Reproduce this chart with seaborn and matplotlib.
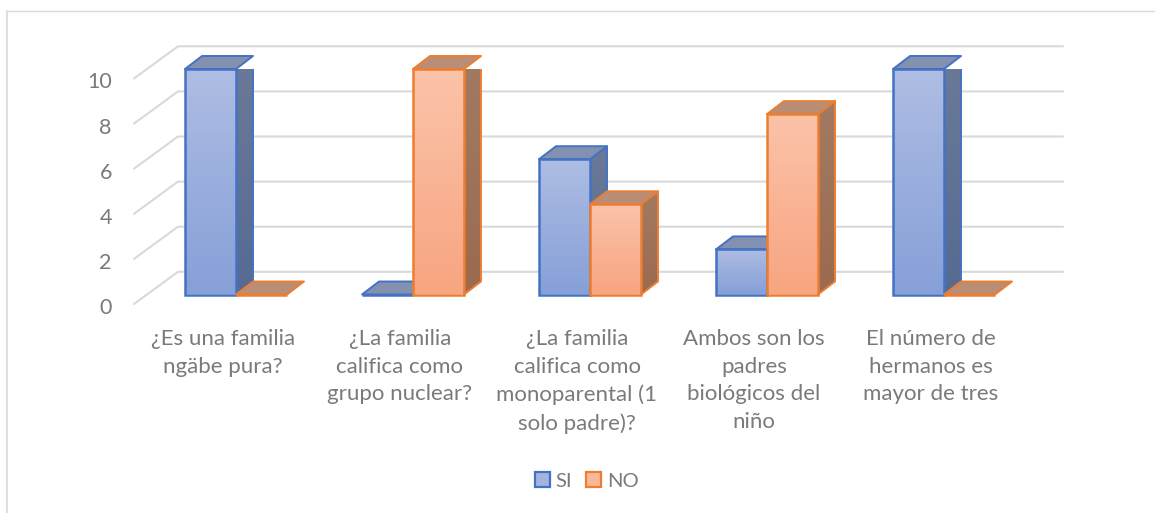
import numpy as np
import pandas as pd
import seaborn as sns
import matplotlib
matplotlib.use('Agg')
import matplotlib.pyplot as plt
from matplotlib.colors import LinearSegmentedColormap
from matplotlib.lines import Line2D
from matplotlib.patches import Patch, Polygon
from matplotlib.transforms import IdentityTransform, ScaledTranslation

# Data
categories = ['¿Es una familia\nngäbe pura?',
              '¿La familia\ncalifica como\ngrupo nuclear?',
              '¿La familia\ncalifica como\nmonoparental (1\nsolo padre)?',
              'Ambos son los\npadres\nbiológicos del\nniño',
              'El número de\nhermanos es\nmayor de tres']
si_values = [10, 0, 6, 2, 10]
no_values = [0, 10, 4, 8, 0]
y_ticks = [0, 2, 4, 6, 8, 10]

# Colours: edge, front top, front bottom, side top, side bottom, roof
blue = ['#4472C4', '#AEBDE3', '#86A0D8', '#6B7A97', '#566A93', '#8490B0']
orange = ['#ED7D31', '#FBC3A9', '#F8A581', '#A27B62', '#9C6A4F', '#B98D76']
text_color = '#7A7A7A'
grid_color = '#D9D9D9'

W, H = 1155, 513
depth_x, depth_y = 17, 13

sns.set_style('white')
plt.rcParams['font.family'] = ['Lato', 'DejaVu Sans']

df = pd.DataFrame({
    'pregunta': categories * 2,
    'valor': si_values + no_values,
    'respuesta': ['SI'] * len(categories) + ['NO'] * len(categories),
})

fig = plt.figure(figsize=(W / 100, H / 100), dpi=100)
ax = fig.add_axes([134 / W, 1 - 294.5 / H, (1063 - 134) / W, (294.5 - 69) / H])
ax.patch.set_alpha(0)

sns.barplot(data=df, x='pregunta', y='valor', hue='respuesta', hue_order=['SI', 'NO'],
            order=categories, width=0.576, gap=0, palette=[blue[0], orange[0]],
            legend=False, ax=ax)

ax.set_xlim(-102 / 177, 827 / 177)
ax.set_ylim(0, 10)
ax.set_autoscale_on(False)
ax.set_xlabel('')
ax.set_ylabel('')
sns.despine(ax=ax, left=True, bottom=True)


def gradient_fill(points, top, bottom, zorder):
    # fill a polygon given in pixels with a vertical gradient
    pts = np.array(points)
    poly = Polygon(pts, closed=True, transform=IdentityTransform(), facecolor='none', edgecolor='none')
    ax.add_patch(poly)
    cmap = LinearSegmentedColormap.from_list('g', [bottom, top])
    extent = (pts[:, 0].min(), pts[:, 0].max(), pts[:, 1].min(), pts[:, 1].max())
    im = ax.imshow(np.linspace(1, 0, 64).reshape(-1, 1), cmap=cmap, aspect='auto', extent=extent,
                   transform=IdentityTransform(), zorder=zorder, vmin=0, vmax=1)
    im.set_clip_path(poly)


# back wall grid lines and the slanted part at the left
for v in y_ticks:
    x0, y0 = ax.transData.transform((ax.get_xlim()[0], v))
    x1, y1 = ax.transData.transform((ax.get_xlim()[1], v))
    wall_y = y0 + 22.7
    ax.add_line(Line2D([x0, x0 + 44, x1], [y0 - 9.5, wall_y, wall_y], color=grid_color, lw=1.5,
                       transform=IdentityTransform(), zorder=1, clip_on=False))

# 3D look: every bar gets a front gradient, a side and a roof
z = 3
for container, colors in zip(ax.containers, [blue, orange]):
    for bar in container:
        (x0, y0), (x1, y1) = ax.transData.transform(bar.get_bbox().get_points())
        edge = colors[0]
        if y1 - y0 > 0.5:
            side = [(x1, y0), (x1 + depth_x, y0 + depth_y), (x1 + depth_x, y1 + depth_y), (x1, y1)]
            gradient_fill(side, colors[3], colors[4], z)
            ax.add_patch(Polygon(side, closed=True, transform=IdentityTransform(), facecolor='none',
                                 edgecolor=edge, lw=1.4, zorder=z + 0.1, joinstyle='round'))
        roof = [(x0, y1), (x0 + depth_x, y1 + depth_y), (x1 + depth_x, y1 + depth_y), (x1, y1)]
        ax.add_patch(Polygon(roof, closed=True, transform=IdentityTransform(), facecolor=colors[5],
                             edgecolor=edge, lw=1.4, zorder=z + 0.2, joinstyle='round', clip_on=False))
        if y1 - y0 > 0.5:
            front = [(x0, y0), (x1, y0), (x1, y1), (x0, y1)]
            gradient_fill(front, colors[1], colors[2], z + 0.3)
        bar.set_facecolor('none')
        bar.set_edgecolor(edge)
        bar.set_linewidth(1.8)
        bar.set_zorder(z + 0.4)
        bar.set_clip_on(False)
        z += 1

# tick labels sit lower and to the left of the bars
ax.set_yticks(y_ticks)
ax.tick_params(axis='y', length=0, pad=16, labelsize=15.5, labelcolor=text_color)
ax.tick_params(axis='x', length=0, pad=25, labelsize=16, labelcolor=text_color)
shift_y = ScaledTranslation(0, -11.5 / 100, fig.dpi_scale_trans)
shift_x = ScaledTranslation(-13 / 100, 0, fig.dpi_scale_trans)
for lab in ax.get_yticklabels():
    lab.set_transform(lab.get_transform() + shift_y)
for lab in ax.get_xticklabels():
    lab.set_transform(lab.get_transform() + shift_x)
    lab.set_linespacing(1.47)

handles = [Patch(facecolor='#A3B4DF', edgecolor=blue[0], lw=1.6),
           Patch(facecolor='#FAB89B', edgecolor=orange[0], lw=1.6)]
fig.legend(handles, ['SI', 'NO'], ncol=2, frameon=False, loc='center',
           bbox_to_anchor=(587 / W, 1 - 481 / H), fontsize=14.5, labelcolor=text_color,
           handlelength=0.72, handleheight=0.72, handletextpad=0.3, columnspacing=0.7)

# chart frame, only top and left are in the picture
fig.add_artist(Line2D([7 / W, 1], [1 - 10.5 / H, 1 - 10.5 / H], color=grid_color, lw=1,
                      transform=fig.transFigure))
fig.add_artist(Line2D([7 / W, 7 / W], [0, 1 - 10.5 / H], color='#DFDFDF', lw=1.5,
                      transform=fig.transFigure))

plt.savefig('out.png', dpi=100)
